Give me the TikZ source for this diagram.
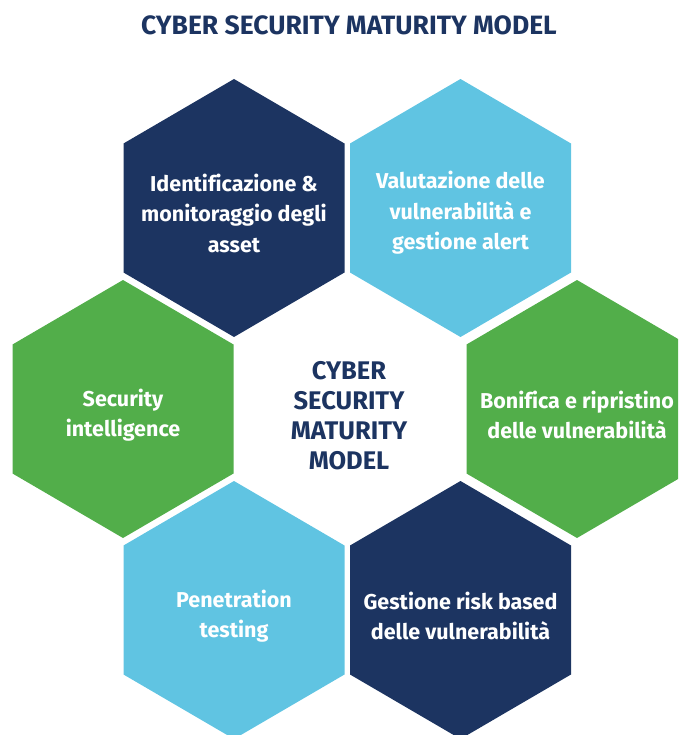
\documentclass[tikz,border=0pt]{standalone}
\usepackage{fontspec}
\setmainfont{Fira Sans}[Ligatures=NoCommon]
\definecolor{navy}{HTML}{1C3461}
\definecolor{sky}{HTML}{60C4E2}
\definecolor{grn}{HTML}{52AE4A}
\begin{document}
\begin{tikzpicture}[x=1pt,y=-1pt,
  hexa/.pic={\fill[pic actions] (0,-129) -- (110.5,-64.5) -- (110.5,64.5) -- (0,129) -- (-110.5,64.5) -- (-110.5,-64.5) -- cycle;},
  lbl/.style={text=white,font=\fontsize{21.5}{30.5}\selectfont\bfseries,align=center,inner sep=0pt},
  ctr/.style={text=navy,font=\fontsize{25.5}{30}\selectfont\bfseries,align=center,inner sep=0pt}]
\useasboundingbox (0,0) rectangle (678,735);
\clip (0,0) rectangle (678,735);
\node[text=navy,font=\fontsize{26.5}{30}\selectfont\bfseries,inner sep=0pt] (title) at (349,25) {CYBER SECURITY MATURITY MODEL};
\pic[fill=navy] at (234,208) {hexa};
\pic[fill=sky] at (460.5,208) {hexa};
\pic[fill=grn] at (123,409) {hexa};
\pic[fill=grn] at (577,409) {hexa};
\pic[fill=sky] at (234,610) {hexa};
\pic[fill=navy] at (460.5,610) {hexa};
\node[lbl] (tl) at (234,213) {Identificazione \&\\monitoraggio degli\\asset};
\node[lbl] (tr) at (460.5,213) {Valutazione delle\\vulnerabilità e\\gestione alert};
\node[lbl] (ml) at (123,415) {Security\\intelligence};
\node[lbl] (mr) at (577,415) {Bonifica e ripristino\\delle vulnerabilità};
\node[lbl] (bl) at (234,616) {Penetration\\testing};
\node[lbl] (br) at (460.5,616) {Gestione risk based\\delle vulnerabilità};
\node[ctr] (c) at (349,416) {CYBER\\SECURITY\\MATURITY\\MODEL};
\end{tikzpicture}
\end{document}
